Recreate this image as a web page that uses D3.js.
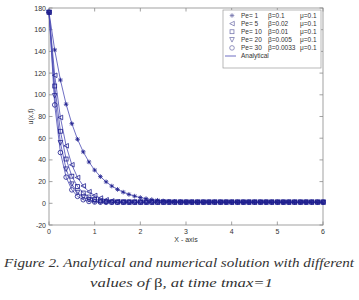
<!DOCTYPE html>
<html>
<head>
<meta charset="utf-8">
<script src="https://cdn.jsdelivr.net/npm/d3@7"></script>
<style>
  body { margin: 0; background: #fff; }
  svg { display: block; }
</style>
</head>
<body>
<svg id="chart"></svg>
<script>
// x grid of the numerical solution
const xs = [
  0, 0.125, 0.25, 0.375, 0.5, 0.625, 0.75, 0.875, 1, 1.125,
  1.25, 1.375, 1.5, 1.625, 1.75, 1.875, 2, 2.125, 2.25, 2.375,
  2.5, 2.625, 2.75, 2.875, 3, 3.125, 3.25, 3.375, 3.5, 3.625,
  3.75, 3.875, 4, 4.125, 4.25, 4.375, 4.5, 4.625, 4.75, 4.875,
  5, 5.125, 5.25, 5.375, 5.5, 5.625, 5.75, 5.875, 6
];

const pe1 = [
  176, 141.4, 113.6, 91.3, 73.4, 59.0, 47.4, 38.1, 30.6, 24.6,
  19.8, 15.9, 12.8, 10.3, 8.2, 6.6, 5.3, 4.3, 3.4, 2.8,
  2.2, 1.8, 1.5, 1.3, 1.1, 1.0, 1.0, 1.0, 1.0, 1.0,
  1.0, 1.0, 1.0, 1.0, 1.0, 1.0, 1.0, 1.0, 1.0, 1.0,
  1.0, 1.0, 1.0, 1.0, 1.0, 1.0, 1.0, 1.0, 1.0
];
const pe5 = [
  176, 118.0, 79.1, 53.0, 35.5, 23.8, 16.0, 10.7, 7.2, 4.8,
  3.2, 2.2, 1.5, 1.2, 1.0, 1.0, 1.0, 1.0, 1.0, 1.0,
  1.0, 1.0, 1.0, 1.0, 1.0, 1.0, 1.0, 1.0, 1.0, 1.0,
  1.0, 1.0, 1.0, 1.0, 1.0, 1.0, 1.0, 1.0, 1.0, 1.0,
  1.0, 1.0, 1.0, 1.0, 1.0, 1.0, 1.0, 1.0, 1.0
];
const pe10 = [
  176, 108.1, 66.4, 40.8, 25.0, 15.4, 9.5, 5.8, 3.6, 2.2,
  1.4, 1.1, 1.0, 1.0, 1.0, 1.0, 1.0, 1.0, 1.0, 1.0,
  1.0, 1.0, 1.0, 1.0, 1.0, 1.0, 1.0, 1.0, 1.0, 1.0,
  1.0, 1.0, 1.0, 1.0, 1.0, 1.0, 1.0, 1.0, 1.0, 1.0,
  1.0, 1.0, 1.0, 1.0, 1.0, 1.0, 1.0, 1.0, 1.0
];
const pe20 = [
  176, 99.0, 55.7, 31.4, 17.6, 9.9, 5.6, 3.2, 1.8, 1.2,
  1.0, 1.0, 1.0, 1.0, 1.0, 1.0, 1.0, 1.0, 1.0, 1.0,
  1.0, 1.0, 1.0, 1.0, 1.0, 1.0, 1.0, 1.0, 1.0, 1.0,
  1.0, 1.0, 1.0, 1.0, 1.0, 1.0, 1.0, 1.0, 1.0, 1.0,
  1.0, 1.0, 1.0, 1.0, 1.0, 1.0, 1.0, 1.0, 1.0
];
const pe30 = [
  176, 90.7, 46.8, 24.1, 12.4, 6.4, 3.3, 1.7, 1.2, 1.0,
  1.0, 1.0, 1.0, 1.0, 1.0, 1.0, 1.0, 1.0, 1.0, 1.0,
  1.0, 1.0, 1.0, 1.0, 1.0, 1.0, 1.0, 1.0, 1.0, 1.0,
  1.0, 1.0, 1.0, 1.0, 1.0, 1.0, 1.0, 1.0, 1.0, 1.0,
  1.0, 1.0, 1.0, 1.0, 1.0, 1.0, 1.0, 1.0, 1.0
];

const seriesValues = [pe1, pe5, pe10, pe20, pe30];
const peLabels = ["Pe= 1", "Pe= 5", "Pe= 10", "Pe= 20", "Pe= 30"];
const betaLabels = ["\u03b2=0.1", "\u03b2=0.02", "\u03b2=0.01", "\u03b2=0.005", "\u03b2=0.0033"];
const muLabels = ["\u03bc=0.1", "\u03bc=0.1", "\u03bc=0.1", "\u03bc=0.1", "\u03bc=0.1"];
const markerTypes = ["star", "triLeft", "square", "triDown", "circle"];
const xTicks = [0, 1, 2, 3, 4, 5, 6];
const yTicks = [-20, 0, 20, 40, 60, 80, 100, 120, 140, 160, 180];

const width = 359, height = 300;
const pLeft = 49, pRight = 323, pTop = 8, pBottom = 225;

const svg = d3.select("#chart").attr("width", width).attr("height", height);
svg.append("rect").attr("width", width).attr("height", height).attr("fill", "#fff");

const x = d3.scaleLinear().domain([0, 6]).range([pLeft, pRight]);
const y = d3.scaleLinear().domain([-20, 180]).range([pBottom, pTop]);

const axisColor = "#8a8a8a";
const textColor = "#333";
const font = "Liberation Sans, Arial, sans-serif";

// frame
svg.append("rect")
  .attr("x", pLeft).attr("y", pTop)
  .attr("width", pRight - pLeft).attr("height", pBottom - pTop)
  .attr("fill", "none").attr("stroke", axisColor).attr("stroke-width", 0.8);

// ticks (inside, all four sides)
const tl = 3.5;
const tickG = svg.append("g").attr("stroke", axisColor).attr("stroke-width", 0.8);
xTicks.forEach(t => {
  tickG.append("line").attr("x1", x(t)).attr("x2", x(t)).attr("y1", pBottom).attr("y2", pBottom - tl);
  tickG.append("line").attr("x1", x(t)).attr("x2", x(t)).attr("y1", pTop).attr("y2", pTop + tl);
});
yTicks.forEach(t => {
  tickG.append("line").attr("x1", pLeft).attr("x2", pLeft + tl).attr("y1", y(t)).attr("y2", y(t));
  tickG.append("line").attr("x1", pRight).attr("x2", pRight - tl).attr("y1", y(t)).attr("y2", y(t));
});

svg.append("g").selectAll("text").data(xTicks).join("text")
  .attr("x", d => x(d)).attr("y", pBottom + 9)
  .attr("text-anchor", "middle")
  .style("font", `7px ${font}`).attr("fill", textColor)
  .text(d => d);

svg.append("g").selectAll("text").data(yTicks).join("text")
  .attr("x", pLeft - 3).attr("y", d => y(d) + 2.5)
  .attr("text-anchor", "end")
  .style("font", `7px ${font}`).attr("fill", textColor)
  .text(d => d);

svg.append("text")
  .attr("x", (pLeft + pRight) / 2).attr("y", pBottom + 17)
  .attr("text-anchor", "middle")
  .style("font", `7px ${font}`).attr("fill", textColor)
  .text("X - axis");

svg.append("text")
  .attr("transform", `translate(33,${(pTop + pBottom) / 2}) rotate(-90)`)
  .attr("text-anchor", "middle")
  .style("font", `7px ${font}`).attr("fill", textColor)
  .text("u(x,t)");

// marker shapes
const markerColor = "#1e1e8e";
const lineColor = "#4a4ab4";
function drawMarker(g, type, cx, cy, color) {
  const s = 2.3;
  let el;
  if (type === "star") {
    el = g.append("path").attr("d",
      `M${-s},0H${s}M0,${-s}V${s}M${-s * 0.72},${-s * 0.72}L${s * 0.72},${s * 0.72}M${-s * 0.72},${s * 0.72}L${s * 0.72},${-s * 0.72}`);
  } else if (type === "triLeft") {
    el = g.append("path").attr("d", `M${-s},0L${s},${-s}L${s},${s}Z`);
  } else if (type === "square") {
    el = g.append("rect").attr("x", -s * 0.85).attr("y", -s * 0.85).attr("width", s * 1.7).attr("height", s * 1.7);
  } else if (type === "triDown") {
    el = g.append("path").attr("d", `M${-s},${-s}L${s},${-s}L0,${s}Z`);
  } else {
    el = g.append("circle").attr("r", s);
  }
  el.attr("transform", `translate(${cx},${cy})`)
    .attr("fill", "none").attr("stroke", color).attr("stroke-width", 0.8);
}

const line = d3.line().x(d => x(d[0])).y(d => y(d[1]));
const plotG = svg.append("g");

// analytical lines
seriesValues.forEach(vals => {
  plotG.append("path")
    .datum(d3.zip(xs, vals))
    .attr("d", line)
    .attr("fill", "none").attr("stroke", lineColor).attr("stroke-width", 0.8);
});

// numerical markers
seriesValues.forEach((vals, i) => {
  d3.zip(xs, vals).forEach(p => drawMarker(plotG, markerTypes[i], x(p[0]), y(p[1]), markerColor));
});

// legend
const lg = svg.append("g");
const lx = 223, ly = 10, lw = 98, lh = 58;
lg.append("rect").attr("x", lx).attr("y", ly).attr("width", lw).attr("height", lh)
  .attr("fill", "#fff").attr("stroke", "#9a9a9a").attr("stroke-width", 0.7);
const rowY = i => ly + 5.5 + i * 8.1;
peLabels.forEach((lab, i) => {
  drawMarker(lg, markerTypes[i], lx + 9, rowY(i), "#7a7ab0");
  lg.append("text").attr("x", lx + 18).attr("y", rowY(i) + 2.4)
    .style("font", `6.5px ${font}`).attr("fill", textColor).text(lab);
  lg.append("text").attr("x", lx + 45).attr("y", rowY(i) + 2.4)
    .style("font", `6.5px ${font}`).attr("fill", textColor).text(betaLabels[i]);
  lg.append("text").attr("x", lx + 77).attr("y", rowY(i) + 2.4)
    .style("font", `6.5px ${font}`).attr("fill", textColor).text(muLabels[i]);
});
lg.append("line").attr("x1", lx + 2).attr("x2", lx + 13).attr("y1", rowY(5)).attr("y2", rowY(5))
  .attr("stroke", lineColor).attr("stroke-width", 0.8);
lg.append("text").attr("x", lx + 18).attr("y", rowY(5) + 2.4)
  .style("font", `6.5px ${font}`).attr("fill", textColor).text("Analytical");

// caption
const capFont = "italic 13px 'Liberation Serif', 'DejaVu Serif', serif";
svg.append("text")
  .attr("x", 4).attr("y", 267)
  .attr("textLength", 350).attr("lengthAdjust", "spacingAndGlyphs")
  .style("font", capFont).attr("fill", "#333")
  .text("Figure 2. Analytical and numerical solution with different");
const cap2 = svg.append("text")
  .attr("x", 90).attr("y", 287)
  .attr("textLength", 183).attr("lengthAdjust", "spacingAndGlyphs")
  .style("font", capFont).attr("fill", "#333");
cap2.append("tspan").text("values of  ");
cap2.append("tspan").style("font-style", "normal").text("\u03b2");
cap2.append("tspan").text(", at time tmax=1");
</script>
</body>
</html>
